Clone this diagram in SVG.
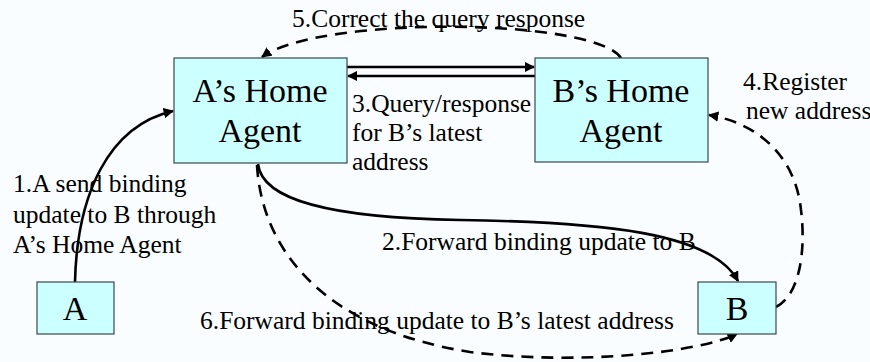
<svg xmlns="http://www.w3.org/2000/svg" width="870" height="362" viewBox="0 0 870 362">
<defs>
<style>
.box{fill:#CCFFFF;stroke:#3a4a4a;stroke-width:1.2}
text{font-family:'Liberation Serif',Tinos,'Times New Roman','DejaVu Serif',serif;fill:#000}
.big{font-size:34px;text-anchor:middle}
.lbl{font-size:25.5px}
.ln{fill:none;stroke:#000;stroke-width:2.6}
.dash{stroke-dasharray:12 8}
</style>
<marker id="ah" viewBox="0 0 10 10" refX="9" refY="5" markerWidth="4" markerHeight="4" orient="auto" markerUnits="strokeWidth">
<path d="M0,0 L10,5 L0,10 z" fill="#000"/>
</marker>
</defs>
<rect width="870" height="362" fill="#F9FDFF"/>
<g id="connectors">
<path class="ln" d="M75,282 C77,195 108,126 173,111" marker-end="url(#ah)"/>
<path class="ln" d="M258,164 C262,200 330,218 460,220 C600,222 712,232 738,281" marker-end="url(#ah)"/>
<path class="ln" d="M347,67 L534,67" marker-end="url(#ah)"/>
<path class="ln" d="M535,76 L348,76" marker-end="url(#ah)"/>
<path class="ln dash" d="M776,307 C800,295 806,250 801,210 C796,160 762,124 709,115" marker-end="url(#ah)"/>
<path class="ln dash" d="M621,58 C595,18 320,15 262,57" marker-end="url(#ah)"/>
<path class="ln dash" d="M257,165 C262,255 330,330 470,352 C580,366 700,352 737,334" marker-end="url(#ah)"/>
</g>
<g id="aha">
<rect class="box" x="174" y="58" width="173" height="105"/>
<text class="big" x="260" y="102">A’s Home</text>
<text class="big" x="260" y="142">Agent</text>
</g>
<g id="bha">
<rect class="box" x="535" y="58" width="173" height="104"/>
<text class="big" x="621" y="102">B’s Home</text>
<text class="big" x="621" y="142">Agent</text>
</g>
<g id="a">
<rect class="box" x="37" y="282" width="77" height="52"/>
<text class="big" x="75" y="320">A</text>
</g>
<g id="b">
<rect class="box" x="698" y="282" width="78" height="52"/>
<text class="big" x="737" y="320">B</text>
</g>
<g id="labels">
<text class="lbl" x="292" y="27">5.Correct the query response</text>
<text class="lbl" x="352" y="112">3.Query/response</text>
<text class="lbl" x="352" y="141">for B’s latest</text>
<text class="lbl" x="352" y="170">address</text>
<text class="lbl" x="743" y="90">4.Register</text>
<text class="lbl" x="746" y="119">new address</text>
<text class="lbl" x="13" y="192">1.A send binding</text>
<text class="lbl" x="13" y="223">update to B through</text>
<text class="lbl" x="13" y="253">A’s Home Agent</text>
<text class="lbl" x="382" y="250">2.Forward binding update to B</text>
<text class="lbl" x="200" y="329">6.Forward binding update to B’s latest address</text>
</g>
</svg>
